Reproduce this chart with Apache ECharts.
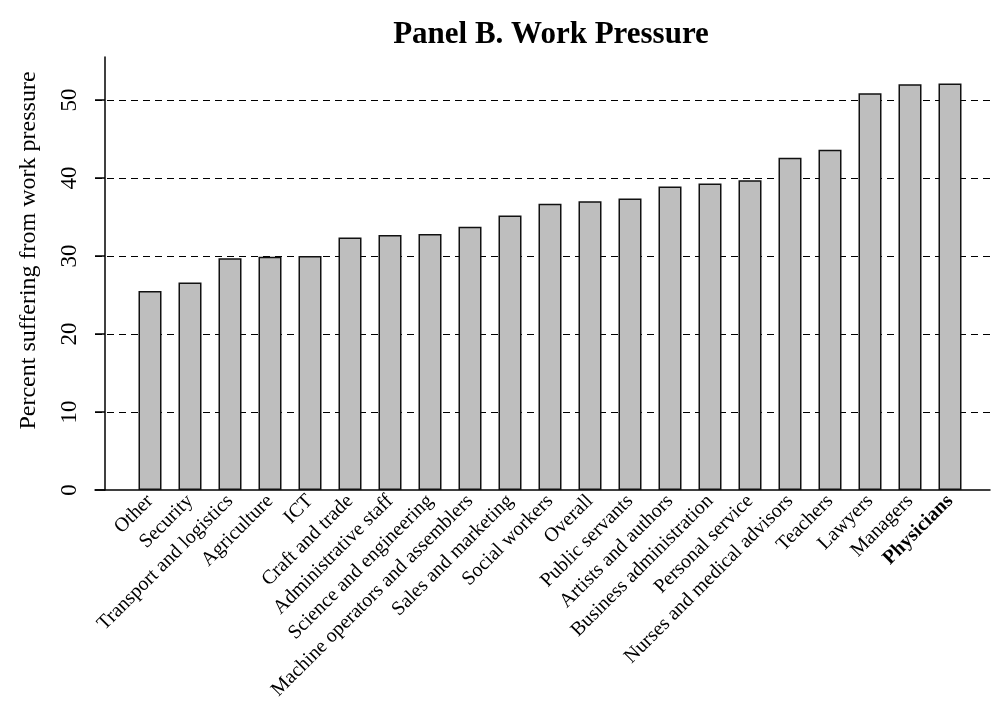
<!DOCTYPE html>
<html>
<head>
<meta charset="utf-8">
<script src="https://cdn.jsdelivr.net/npm/echarts@6/dist/echarts.min.js"></script>
<style>
html, body { margin: 0; padding: 0; background: #fff; }
#main { width: 995px; height: 704px; }
</style>
</head>
<body>
<div id="main"></div>
<script>
var categories = ['Other', 'Security', 'Transport and logistics', 'Agriculture', 'ICT',
    'Craft and trade', 'Administrative staff', 'Science and engineering',
    'Machine operators and assemblers', 'Sales and marketing', 'Social workers', 'Overall',
    'Public servants', 'Artists and authors', 'Business administration', 'Personal service',
    'Nurses and medical advisors', 'Teachers', 'Lawyers', 'Managers', 'Physicians'];
var pressure = [25.5, 26.6, 29.7, 29.9, 30.0, 32.35, 32.7, 32.8, 33.75, 35.2, 36.7, 37.0,
    37.35, 38.9, 39.3, 39.7, 42.6, 43.6, 50.85, 52.0, 52.1];
var boldCategory = 'Physicians';
var yMax = 55.5;

var serif = '"Liberation Serif", "DejaVu Serif", serif';

var catData = [];
for (var i = 0; i < categories.length; i++) {
    if (categories[i] === boldCategory) {
        catData.push({ value: categories[i], textStyle: { fontWeight: 'bold' } });
    } else {
        catData.push(categories[i]);
    }
}

var chart = echarts.init(document.getElementById('main'));
var option = {
    backgroundColor: '#fff',
    animation: false,
    title: {
        text: 'Panel B. Work Pressure',
        left: 546,
        textAlign: 'center',
        top: 14,
        textStyle: { fontFamily: serif, fontSize: 31, fontWeight: 'bold', color: '#000' }
    },
    grid: [
        { left: 130, right: 25, top: 57, bottom: 214 },
        { left: 95, right: 5, top: 57, bottom: 214 }
    ],
    xAxis: [
        {
            type: 'category',
            gridIndex: 0,
            data: catData,
            axisLine: { show: false },
            axisTick: { show: false },
            axisLabel: {
                interval: 0,
                rotate: 45,
                margin: 8,
                fontFamily: serif,
                fontSize: 20,
                color: '#000'
            }
        },
        {
            type: 'value',
            gridIndex: 1,
            min: 0,
            max: 1,
            axisLine: { show: true, onZero: false, lineStyle: { color: '#000', width: 1.5 } },
            axisTick: { show: false },
            axisLabel: { show: false },
            splitLine: { show: false }
        }
    ],
    yAxis: [
        {
            type: 'value',
            gridIndex: 0,
            min: 0,
            max: yMax,
            interval: 10,
            offset: 25,
            name: 'Percent suffering from work pressure',
            nameLocation: 'middle',
            nameRotate: 90,
            nameGap: 64,
            nameTextStyle: { fontFamily: serif, fontSize: 24, color: '#000', padding: [0, 0, 0, 46] },
            axisLine: { show: true, lineStyle: { color: '#000', width: 1.5 } },
            axisTick: { show: true, inside: false, length: 10, lineStyle: { color: '#000', width: 1.5 } },
            axisLabel: {
                rotate: 90,
                margin: 24,
                showMaxLabel: false,
                fontFamily: serif,
                fontSize: 23,
                color: '#000',
                formatter: function (v) { return v % 10 === 0 ? String(v) : ''; }
            },
            splitLine: { show: false }
        },
        {
            type: 'value',
            gridIndex: 1,
            min: 0,
            max: yMax,
            interval: 10,
            axisLine: { show: false },
            axisTick: { show: false },
            axisLabel: { show: false },
            splitLine: {
                show: true,
                showMinLine: false,
                showMaxLine: false,
                lineStyle: { color: '#000', width: 1.2, type: [7, 5] }
            }
        }
    ],
    series: [
        {
            type: 'bar',
            xAxisIndex: 0,
            yAxisIndex: 0,
            data: pressure,
            barWidth: 23,
            z: 5,
            itemStyle: { color: '#bebebe', borderColor: '#111', borderWidth: 1.5 }
        }
    ]
};
chart.setOption(option);
</script>
</body>
</html>
